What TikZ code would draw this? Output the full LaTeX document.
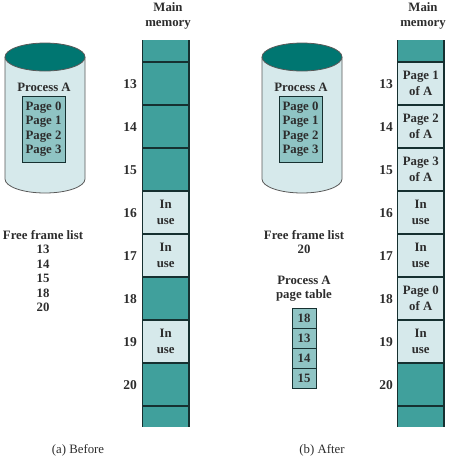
\documentclass[tikz,border=0pt]{standalone}
\usepackage{fontspec}
\setmainfont{Liberation Serif}
\usepackage{xcolor}
\usepackage{tikz}

\definecolor{tealframe}{RGB}{64,160,156}
\definecolor{darkteal}{RGB}{0,118,113}
\definecolor{lightfill}{RGB}{214,233,235}
\definecolor{midteal}{RGB}{143,196,196}
\definecolor{lineteal}{RGB}{22,48,48}
\definecolor{textgray}{RGB}{45,45,45}

\tikzset{
  lbl/.style={font=\fontsize{12.8}{14.5}\selectfont\bfseries, text=textgray, align=center, inner sep=0pt},
  inframe/.style={lbl, font=\fontsize{12.8}{15.5}\selectfont\bfseries},
  numlbl/.style={lbl, font=\fontsize{13.5}{14.5}\selectfont\bfseries},
  captext/.style={font=\fontsize{12.8}{14.5}\selectfont, text=textgray, inner sep=0pt},
  frameline/.style={lineteal, line width=1.4pt},
  cylline/.style={gray!70!black, line width=0.8pt},
  ptbox/.style={draw=lineteal, line width=0.8pt, fill=midteal, minimum width=24pt, minimum height=20pt, inner sep=0pt, font=\fontsize{12.8}{14.5}\selectfont\bfseries, text=textgray}
}

\begin{document}
\begin{tikzpicture}[x=1pt,y=-1pt]
  \useasboundingbox (0,0) rectangle (448,456);

  % (a) Before
  \fill[lightfill] (5,57) -- (5,179) arc[start angle=180, end angle=0, x radius=40, y radius=14] -- (85,57) -- cycle;
  \draw[cylline] (5,57) -- (5,179) arc[start angle=180, end angle=0, x radius=40, y radius=14] -- (85,57);
  \draw[cylline, fill=darkteal] (45,57) ellipse[x radius=40, y radius=14];
  \node[lbl] (procA) at (44,87) {Process A};
  \node[draw=lineteal, line width=0.8pt, fill=midteal, minimum width=43pt, minimum height=66pt, lbl] (pagesA) at (43.5,129) {Page 0\\Page 1\\Page 2\\Page 3};

  \node[inframe] (mainA) at (168,16) {Main\\memory};
  \fill[tealframe] (142.5,40) rectangle (189,427);
  \foreach \y in {191,234,320}
    \fill[lightfill] (142.5,\y) rectangle (189,\y+43);
  \foreach \k in {0,...,8}
    \draw[frameline] (142.5,62+43*\k) -- (189,62+43*\k);
  \draw[frameline] (142.5,40) -- (142.5,427) (189,40) -- (189,427);
  \foreach \n [count=\k from 0] in {13,...,20}
    \node[numlbl] (na\n) at (130,84+43*\k) {\n};
  \foreach \n in {16,17,19}
    \node[inframe] (usea\n) at (165.75,83.5+43*\n-559) {In\\use};

  \node[lbl] (freeA) at (43,235) {Free frame list};
  \foreach \n [count=\k from 0] in {13,14,15,18,20}
    \node[lbl] (fa\n) at (43,249.5+14.5*\k) {\n};

  \node[captext] (capA) at (78,450) {(a) Before};

  % (b) After
  \begin{scope}[xshift=257]
    \fill[lightfill] (5,57) -- (5,179) arc[start angle=180, end angle=0, x radius=40, y radius=14] -- (85,57) -- cycle;
    \draw[cylline] (5,57) -- (5,179) arc[start angle=180, end angle=0, x radius=40, y radius=14] -- (85,57);
    \draw[cylline, fill=darkteal] (45,57) ellipse[x radius=40, y radius=14];
    \node[lbl] (procB) at (44,87) {Process A};
    \node[draw=lineteal, line width=0.8pt, fill=midteal, minimum width=43pt, minimum height=66pt, lbl] (pagesB) at (43.5,129) {Page 0\\Page 1\\Page 2\\Page 3};
  \end{scope}

  \begin{scope}[xshift=255]
    \node[inframe] (mainB) at (168,16) {Main\\memory};
    \fill[tealframe] (142.5,40) rectangle (189,427);
    \fill[lightfill] (142.5,62) rectangle (189,363);
    \foreach \k in {0,...,8}
      \draw[frameline] (142.5,62+43*\k) -- (189,62+43*\k);
    \draw[frameline] (142.5,40) -- (142.5,427) (189,40) -- (189,427);
    \foreach \n [count=\k from 0] in {13,...,20}
      \node[numlbl] (nb\n) at (131,84+43*\k) {\n};
    \foreach \n/\txt in {13/Page 1\\of A, 14/Page 2\\of A, 15/Page 3\\of A, 16/In\\use, 17/In\\use, 18/Page 0\\of A, 19/In\\use}
      \node[inframe] (useb\n) at (165.75,83.5+43*\n-559) {\txt};
  \end{scope}

  \node[lbl] (freeB) at (304,242) {Free frame list\\20};
  \node[lbl] (ptlbl) at (304,288.5) {Process A\\page table};
  \foreach \n [count=\k from 0] in {18,13,14,15}
    \node[ptbox] (pt\n) at (304,318+20*\k) {\n};

  \node[captext] (capB) at (322,450) {(b) After};
\end{tikzpicture}
\end{document}
